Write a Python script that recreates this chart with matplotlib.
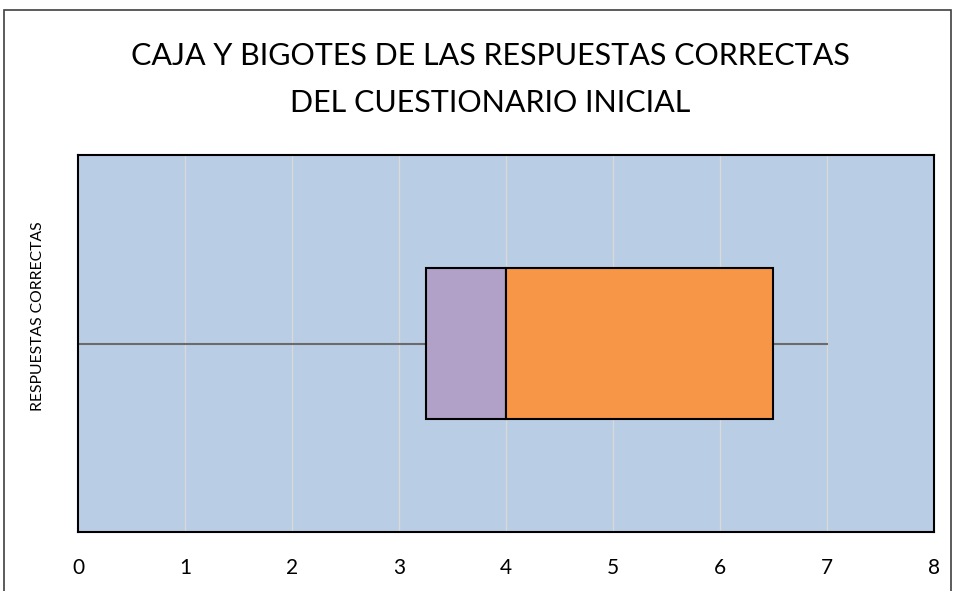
import matplotlib.pyplot as plt
from matplotlib.patches import Rectangle

# five-number summary of correct answers
minimum = 0
q1 = 3.25
median = 4
q3 = 6.5
maximum = 7

xticks = [0, 1, 2, 3, 4, 5, 6, 7, 8]
category = "RESPUESTAS CORRECTAS"
title_lines = ["CAJA Y BIGOTES DE LAS RESPUESTAS CORRECTAS", "DEL CUESTIONARIO INICIAL"]

plt.rcParams["font.family"] = ["Lato", "DejaVu Sans"]

W, H = 954, 591
fig = plt.figure(figsize=(W / 100, H / 100), dpi=100)
ax = fig.add_axes([78 / W, 1 - 532 / H, (934 - 78) / W, (532 - 155) / H])

# outer chart frame (bottom edge runs off the picture)
fig.patches.append(Rectangle((4 / W, -0.05), (951 - 4) / W, 1.05 - 10 / H,
                             transform=fig.transFigure, fill=False,
                             edgecolor="#404040", lw=1.2))

ax.set_facecolor("#B9CDE5")
ax.set_xlim(xticks[0], xticks[-1])
ax.set_ylim(-0.5, 0.5)

# whiskers
ax.plot([minimum, maximum], [0, 0], color="#6b6b6b", lw=1.5, zorder=2)

# box: lower and upper halves
ax.barh(0, median - q1, left=q1, height=0.4, color="#B1A0C7",
        edgecolor="black", lw=1.5, zorder=3)
ax.barh(0, q3 - median, left=median, height=0.4, color="#F79646",
        edgecolor="black", lw=1.5, zorder=3)

ax.set_xticks(xticks)
ax.set_xticklabels([str(t) for t in xticks], fontsize=15)
ax.tick_params(axis="x", length=0, pad=19)
ax.set_yticks([])
ax.set_ylabel(category, fontsize=11.3)
ax.yaxis.set_label_coords((45 - 78) / (934 - 78), (532 - 316) / (532 - 155))
ax.grid(axis="x", color="#D9D9D9", lw=1, zorder=1)
ax.set_axisbelow(True)
for s in ax.spines.values():
    s.set_color("black")
    s.set_linewidth(1.5)

fig.text(490 / W, 1 - 56 / H, title_lines[0], ha="center", va="center", fontsize=22)
fig.text(490 / W, 1 - 103 / H, title_lines[1], ha="center", va="center", fontsize=22)

fig.savefig("out.png", dpi=100)
